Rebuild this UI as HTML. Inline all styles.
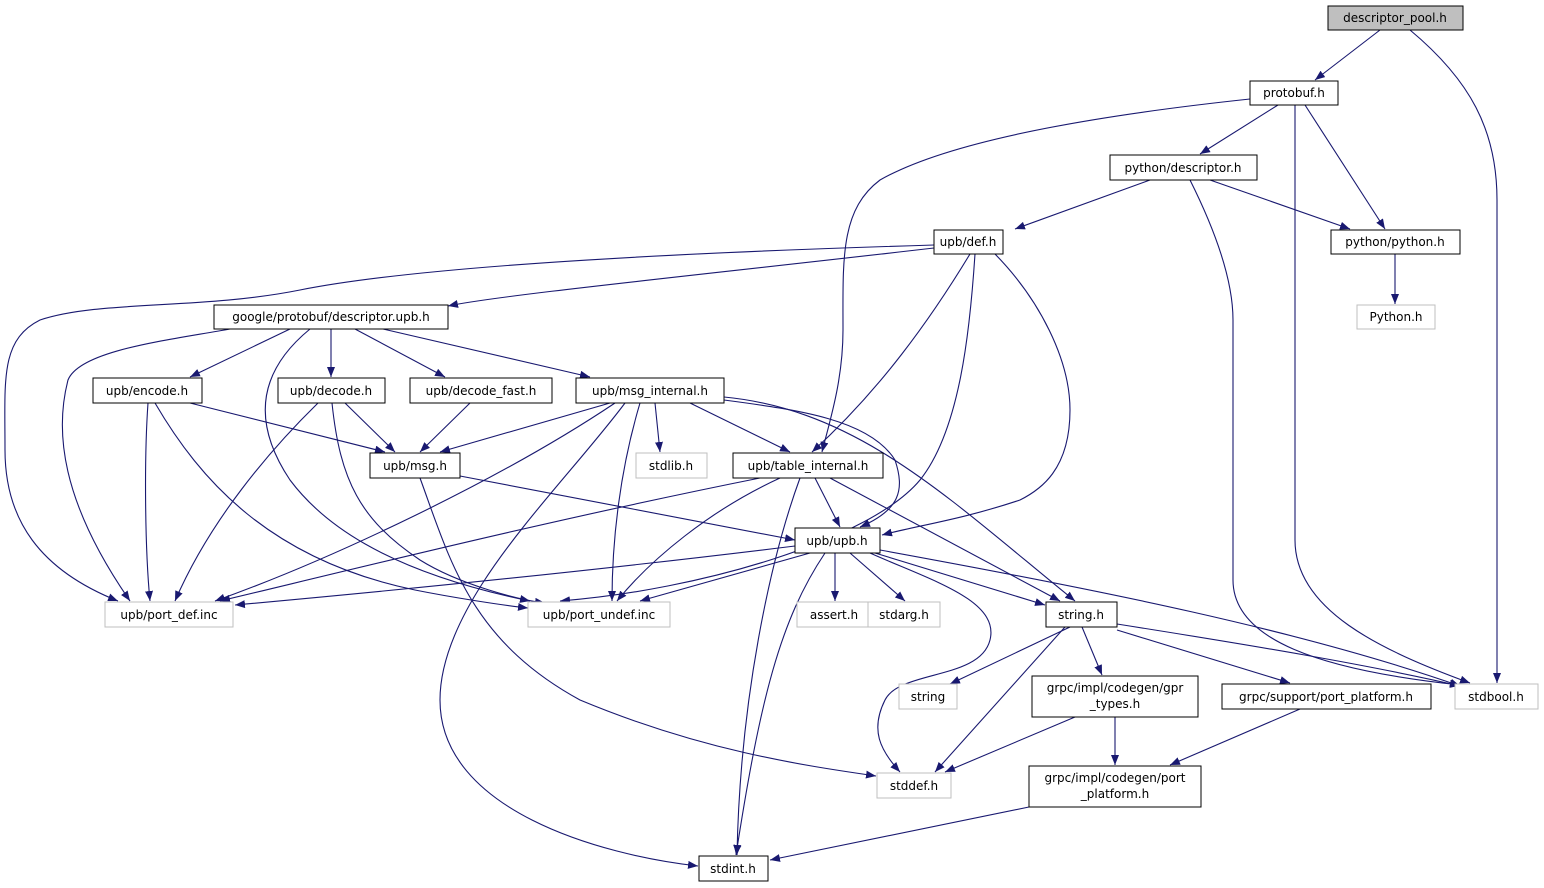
<!DOCTYPE html>
<html><head><meta charset="utf-8"><style>
html,body{margin:0;padding:0;background:#fff;}
svg{display:block;}
text{font-family:"DejaVu Sans","Liberation Sans",sans-serif;font-size:12px;fill:#000;text-anchor:middle;}
.n{fill:#fff;stroke:#000;stroke-width:1;}
.g{fill:#fff;stroke:#bfbfbf;stroke-width:1;}
.e{fill:none;stroke:#191970;stroke-width:1.1;}
</style></head><body>
<svg width="1544" height="888" viewBox="0 0 1544 888" xmlns="http://www.w3.org/2000/svg">
<defs><marker id="a" markerWidth="10" markerHeight="8" refX="10" refY="4" orient="auto" markerUnits="userSpaceOnUse"><path d="M0,0 L10,4 L0,8 z" fill="#191970"/></marker></defs>
<g class="e" marker-end="url(#a)">
<path d="M1380,30 L1315,80"/>
<path d="M1410,30 C1470,80 1497,130 1497,200 L1497,683"/>
<path d="M1250,99 C1100,115 950,140 880,180 C840,210 843,260 843,330 C843,380 830,420 822,452"/>
<path d="M1278,105 L1200,154"/>
<path d="M1305,105 L1385,229"/>
<path d="M1295,105 L1295,540 C1295,610 1380,650 1470,683"/>
<path d="M1150,180 L1015,229"/>
<path d="M1210,180 L1350,229"/>
<path d="M1190,180 C1215,230 1233,280 1233,320 L1233,580 C1233,640 1320,670 1460,685"/>
<path d="M1395,254 L1395,304"/>
<path d="M934,248 C700,275 500,295 448,306"/>
<path d="M934,245 C600,255 400,270 300,290 C200,310 100,300 40,320 C0,340 5,380 5,450 C5,520 40,570 118,601"/>
<path d="M970,254 C930,320 880,390 812,452"/>
<path d="M995,254 C1040,300 1070,360 1070,410 C1070,470 1040,490 1020,500 C960,520 920,525 882,535"/>
<path d="M975,254 C970,330 960,430 920,480 C870,540 700,590 560,601"/>
<path d="M290,329 L190,377"/>
<path d="M331,329 L331,377"/>
<path d="M355,329 L445,377"/>
<path d="M383,329 L590,377"/>
<path d="M230,329 C170,340 80,350 68,380 C55,430 60,500 130,601"/>
<path d="M310,329 C260,370 250,420 290,480 C320,520 380,570 530,601"/>
<path d="M190,403 L385,452"/>
<path d="M148,403 C144,460 145,550 150,601"/>
<path d="M155,403 C200,480 270,560 415,590 C450,597 500,605 528,608"/>
<path d="M318,403 C270,450 210,520 175,601"/>
<path d="M345,403 L395,452"/>
<path d="M332,403 C340,480 360,520 420,560 C460,585 520,600 545,603"/>
<path d="M470,403 L420,452"/>
<path d="M610,403 L440,452"/>
<path d="M655,403 L660,452"/>
<path d="M690,403 L790,452"/>
<path d="M615,403 C500,480 330,560 215,601"/>
<path d="M640,403 C620,470 612,540 612,601"/>
<path d="M625,403 C560,490 440,600 440,700 C440,810 600,855 698,866"/>
<path d="M724,400 C800,410 870,420 895,460 C905,490 900,510 860,527"/>
<path d="M724,397 C860,410 950,500 1075,601"/>
<path d="M460,476 L795,540"/>
<path d="M420,478 C450,560 470,640 580,700 C700,750 800,765 876,776"/>
<path d="M815,478 L840,527"/>
<path d="M760,478 C550,520 350,570 220,601"/>
<path d="M780,478 C710,510 650,560 617,601"/>
<path d="M800,478 C770,560 740,700 737,855"/>
<path d="M830,478 L1060,601"/>
<path d="M795,546 C600,570 400,590 235,605"/>
<path d="M810,553 L640,601"/>
<path d="M835,553 L835,601"/>
<path d="M850,553 L905,601"/>
<path d="M875,553 L1045,605"/>
<path d="M880,550 C1100,590 1300,630 1460,686"/>
<path d="M870,553 C930,580 1000,600 990,640 C980,680 900,670 885,700 C870,730 880,750 900,772"/>
<path d="M825,553 C780,620 760,700 736,855"/>
<path d="M1070,627 L950,684"/>
<path d="M1065,627 L935,772"/>
<path d="M1082,627 L1102,675"/>
<path d="M1117,630 L1290,683"/>
<path d="M1117,624 C1250,645 1370,665 1460,686"/>
<path d="M1075,717 L945,772"/>
<path d="M1115,717 L1115,765"/>
<path d="M1300,709 L1170,765"/>
<path d="M1029,807 L770,860"/>
</g>
<rect x="1328" y="6" width="135" height="24" fill="#bfbfbf" stroke="#000"/><text x="1395" y="22">descriptor_pool.h</text>
<rect class="n" x="1250" y="81" width="88" height="24"/><text x="1294" y="97">protobuf.h</text>
<rect class="n" x="1110" y="155" width="147" height="25"/><text x="1183" y="172">python/descriptor.h</text>
<rect class="n" x="934" y="230" width="69" height="24"/><text x="968" y="246">upb/def.h</text>
<rect class="n" x="1331" y="230" width="129" height="24"/><text x="1395" y="246">python/python.h</text>
<rect class="g" x="1357" y="305" width="78" height="24"/><text x="1396" y="321">Python.h</text>
<rect class="n" x="214" y="305" width="234" height="24"/><text x="331" y="321">google/protobuf/descriptor.upb.h</text>
<rect class="n" x="93" y="378" width="109" height="25"/><text x="147" y="395">upb/encode.h</text>
<rect class="n" x="278" y="378" width="107" height="25"/><text x="331" y="395">upb/decode.h</text>
<rect class="n" x="410" y="378" width="142" height="25"/><text x="481" y="395">upb/decode_fast.h</text>
<rect class="n" x="576" y="378" width="148" height="25"/><text x="650" y="395">upb/msg_internal.h</text>
<rect class="n" x="370" y="453" width="90" height="25"/><text x="415" y="470">upb/msg.h</text>
<rect class="g" x="636" y="453" width="71" height="25"/><text x="671" y="470">stdlib.h</text>
<rect class="n" x="733" y="453" width="150" height="25"/><text x="808" y="470">upb/table_internal.h</text>
<rect class="n" x="795" y="528" width="85" height="25"/><text x="837" y="545">upb/upb.h</text>
<rect class="g" x="105" y="602" width="128" height="25"/><text x="169" y="619">upb/port_def.inc</text>
<rect class="g" x="528" y="602" width="142" height="25"/><text x="599" y="619">upb/port_undef.inc</text>
<rect class="g" x="797" y="602" width="75" height="25"/><text x="834" y="619">assert.h</text>
<rect class="g" x="868" y="602" width="72" height="25"/><text x="904" y="619">stdarg.h</text>
<rect class="n" x="1046" y="602" width="71" height="25"/><text x="1081" y="619">string.h</text>
<rect class="g" x="899" y="684" width="58" height="25"/><text x="928" y="701">string</text>
<rect class="n" x="1032" y="676" width="166" height="41"/><text x="1115" y="692">grpc/impl/codegen/gpr</text><text x="1115" y="708">_types.h</text>
<rect class="n" x="1222" y="684" width="209" height="25"/><text x="1326" y="701">grpc/support/port_platform.h</text>
<rect class="g" x="1455" y="684" width="83" height="25"/><text x="1496" y="701">stdbool.h</text>
<rect class="g" x="877" y="773" width="74" height="25"/><text x="914" y="790">stddef.h</text>
<rect class="n" x="1029" y="766" width="172" height="41"/><text x="1115" y="782">grpc/impl/codegen/port</text><text x="1115" y="798">_platform.h</text>
<rect class="n" x="699" y="856" width="69" height="25"/><text x="733" y="873">stdint.h</text>
</svg>
</body></html>
